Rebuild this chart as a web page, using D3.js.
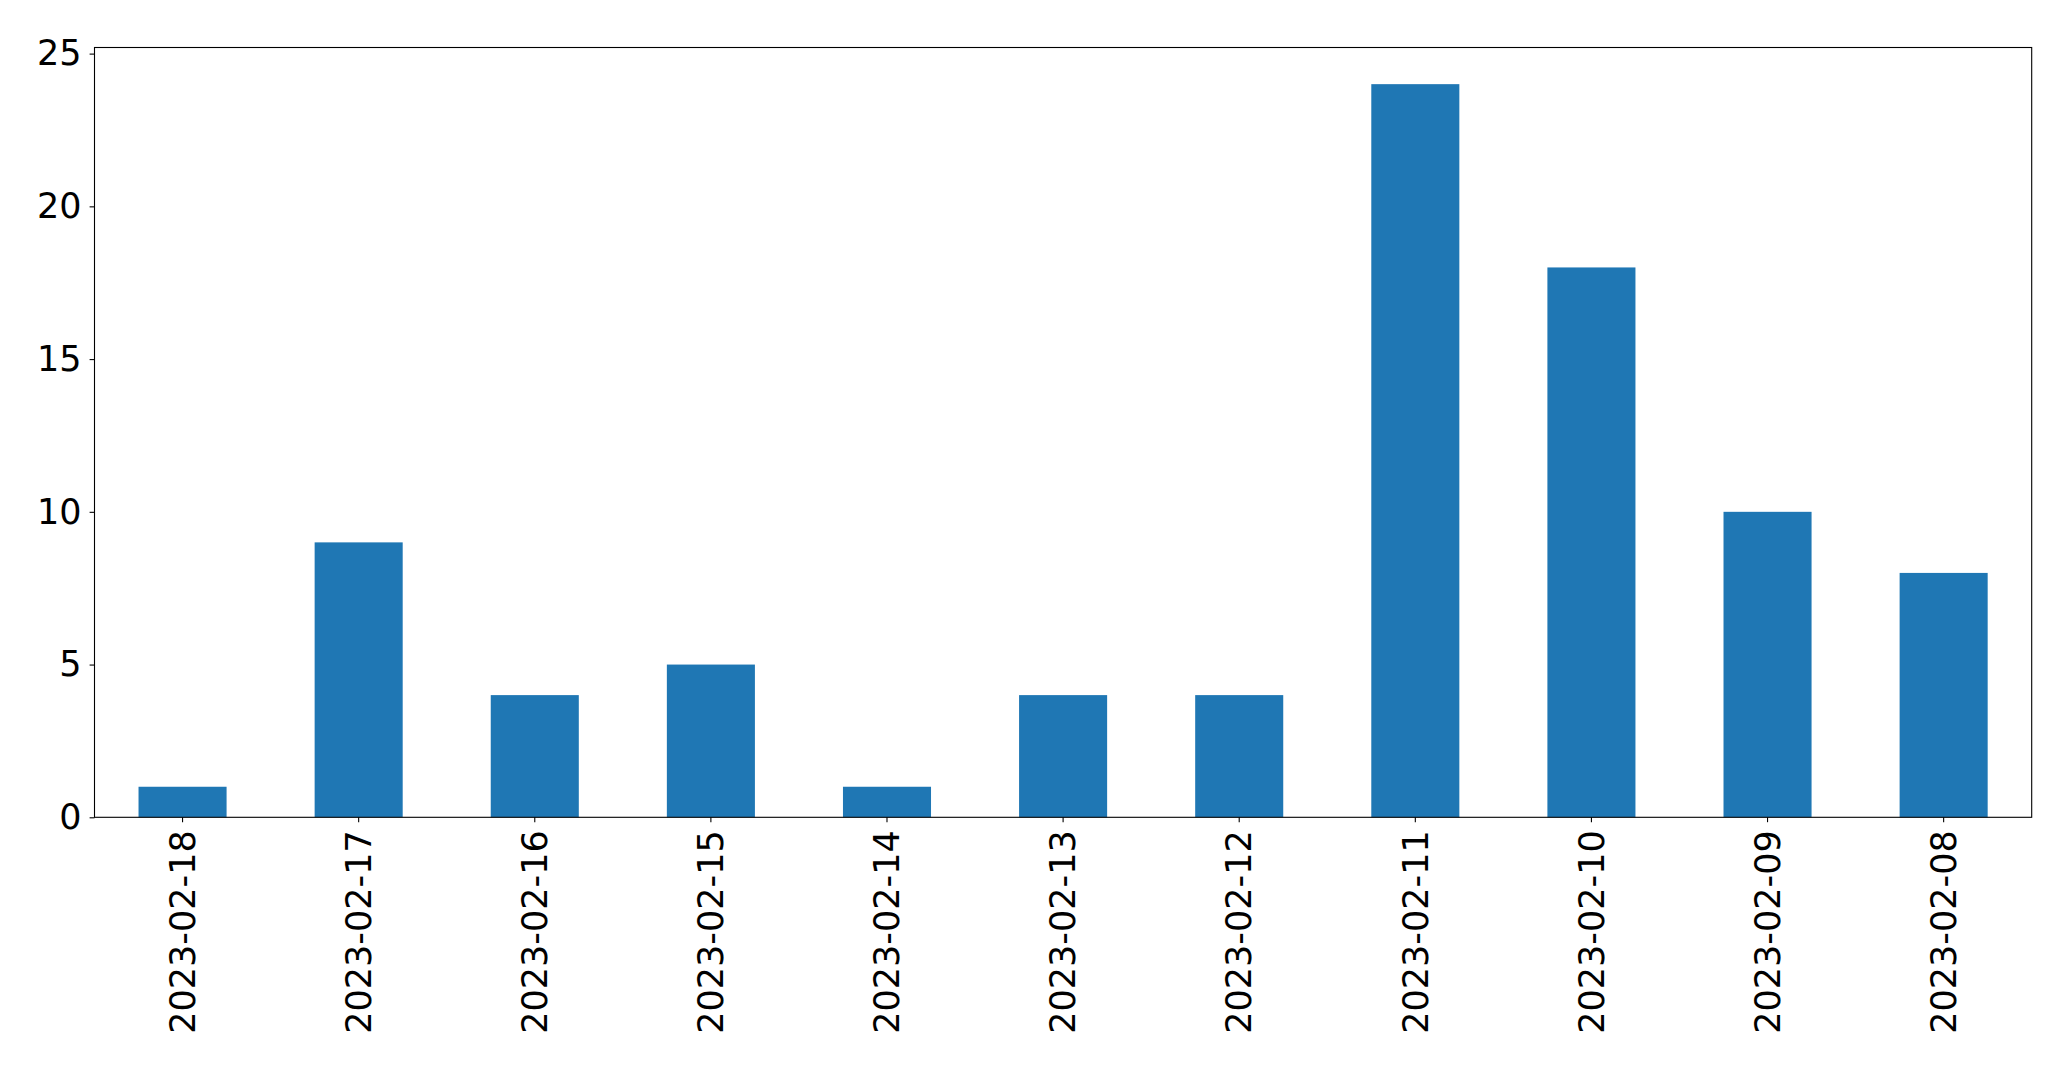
<!DOCTYPE html>
<html><head><meta charset="utf-8">
<script src="https://cdn.jsdelivr.net/npm/d3@7"></script>
<style>html,body{margin:0;padding:0;background:#fff;}svg{display:block;}</style>
</head><body>
<script>
const categories = ["2023-02-18","2023-02-17","2023-02-16","2023-02-15","2023-02-14","2023-02-13","2023-02-12","2023-02-11","2023-02-10","2023-02-09","2023-02-08"];
const values = [1, 9, 4, 5, 1, 4, 4, 24, 18, 10, 8];
const yTicks = [0, 5, 10, 15, 20, 25];

const W = 2071, H = 1069;
const m = {left: 94.5, top: 47.5, right: 2071 - 2031.7, bottom: 1069 - 817.3};
const iw = W - m.left - m.right, ih = H - m.top - m.bottom;

const svg = d3.select("body").append("svg").attr("width", W).attr("height", H);
const g = svg.append("g").attr("transform", `translate(${m.left},${m.top})`);

const x = d3.scaleBand().domain(categories).range([0, iw]).paddingInner(0.5).paddingOuter(0.25);
const y = d3.scaleLinear().domain([0, d3.max(values) * 1.05]).range([ih, 0]);

g.selectAll("rect.bar").data(values).join("rect")
  .attr("class", "bar")
  .attr("x", (d, i) => x(categories[i]))
  .attr("width", x.bandwidth())
  .attr("y", d => y(d))
  .attr("height", d => ih - y(d))
  .attr("fill", "#1f77b4");

const font = "DejaVu Sans";
const fs = 35;

const yAxis = g.append("g").call(d3.axisLeft(y).tickValues(yTicks).tickFormat(d3.format("d")).tickSize(4.9).tickPadding(8));
const xAxis = g.append("g").attr("transform", `translate(0,${ih})`).call(d3.axisBottom(x).tickSize(4.9).tickPadding(8));

[yAxis, xAxis].forEach(a => {
  a.select(".domain").remove();
  a.selectAll(".tick line").attr("stroke", "#000").attr("stroke-width", 1.1);
  a.selectAll("text").attr("font-family", font).attr("font-size", fs).attr("fill", "#000");
});

xAxis.selectAll(".tick text")
  .attr("transform", "rotate(-90)")
  .attr("text-anchor", "end")
  .attr("x", -13)
  .attr("y", 0)
  .attr("dy", "0.35em");

g.append("rect").attr("x", 0).attr("y", 0).attr("width", iw).attr("height", ih)
  .attr("fill", "none").attr("stroke", "#000").attr("stroke-width", 1.1);
</script>
</body></html>
